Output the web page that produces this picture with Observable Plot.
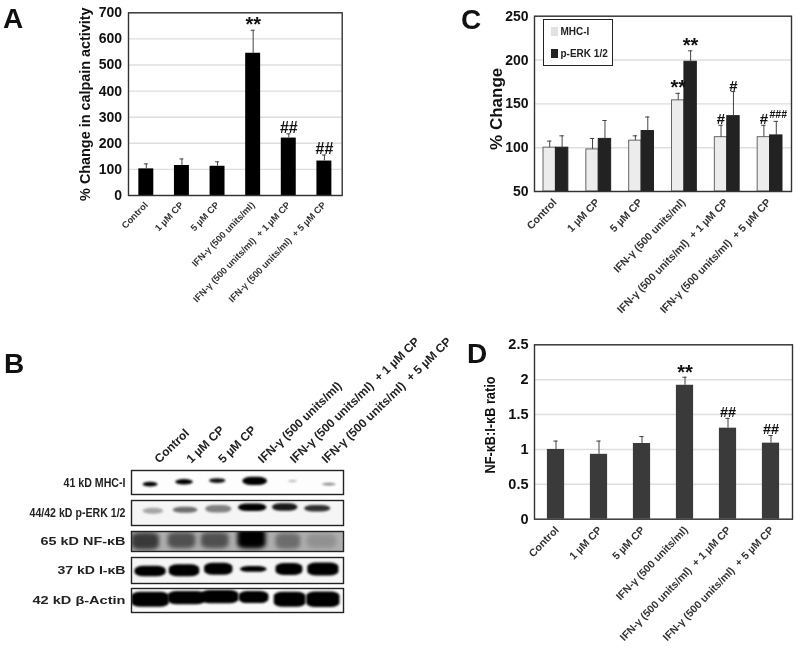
<!DOCTYPE html>
<html>
<head>
<meta charset="utf-8">
<script src="https://cdn.jsdelivr.net/npm/d3@7"></script>
<script src="https://cdn.jsdelivr.net/npm/@observablehq/plot@0.6"></script>
<style>
  html, body { margin: 0; padding: 0; background: #fff; }
  #page { position: relative; width: 800px; height: 651px; overflow: hidden; background: #fff;
          font-family: "Liberation Sans", Arial, sans-serif; filter: blur(0.4px); }
  .pane { position: absolute; }
  .pane svg { display: block; max-width: none; overflow: visible; }
  .letter { position: absolute; font-weight: bold; font-size: 28px; line-height: 28px; color: #111; }
  #legend { position: absolute; left: 543px; top: 19px; width: 68px; height: 45px; border: 1.4px solid #222;
            background: #fff; font-size: 10px; font-weight: bold; color: #222; }
  #legend div { position: absolute; left: 7px; display: flex; align-items: center; gap: 3px; white-space: nowrap; }
  #legend i { display: inline-block; width: 6.5px; height: 9px; }
</style>
</head>
<body>
<div id="page"></div>
<script>
const nb = "\u00a0";
const groups = ["Control", "1 µM CP", "5 µM CP", "IFN-γ (500 units/ml)",
  "IFN-γ (500 units/ml)" + nb + " + 1 µM CP", "IFN-γ (500 units/ml)" + nb + " + 5 µM CP"];

const calpainValue = [102, 115, 112, 545, 220, 132];
const calpainTop = [121, 140, 129, 633, 236, 155];
const calpainNote = ["", "", "", "**", "##", "##"];

const mhcValue = [100, 98, 108, 154, 112, 112];
const mhcTop = [107.5, 110.5, 113.5, 162, 125.5, 125.5];
const mhcNote = ["", "", "", "**", "#", "#"];
const erkValue = [100, 110, 119, 198, 136, 114];
const erkTop = [113.5, 131, 135, 210.5, 164, 130];
const erkNote = ["", "", "", "**", "#", "###"];
const seriesNames = ["MHC-I", "p-ERK 1/2"];

const ratioValue = [1.0, 0.93, 1.085, 1.92, 1.305, 1.09];
const ratioTop = [1.12, 1.12, 1.185, 2.035, 1.445, 1.2];
const ratioNote = ["", "", "", "**", "##", "##"];

const blotNames = ["41 kD MHC-I", "44/42 kD p-ERK 1/2", "65 kD NF-κB", "37 kD I-κB", "42 kD β-Actin"];
const headerLane = [0.62, 1.52, 2.42, 3.55, 4.45, 5.35];
const bandLane = [
  [0.54, 1.50, 2.44, 3.50, 4.57, 5.60],
  [0.62, 1.53, 2.47, 3.43, 4.35, 5.27],
  [0.40, 1.43, 2.37, 3.41, 4.44, 5.39],
  [0.54, 1.50, 2.47, 3.46, 4.47, 5.43],
  [0.54, 1.57, 2.51, 3.47, 4.49, 5.43]
];
const bandDepth = [
  [0.59, 0.49, 0.44, 0.45, 0.46, 0.59],
  [0.43, 0.39, 0.35, 0.29, 0.28, 0.33],
  [0.50, 0.46, 0.46, 0.37, 0.50, 0.50],
  [0.54, 0.51, 0.45, 0.46, 0.46, 0.46],
  [0.47, 0.40, 0.36, 0.38, 0.47, 0.47]
];
const bandWidth = [
  [0.42, 0.50, 0.46, 0.70, 0.24, 0.38],
  [0.58, 0.70, 0.74, 0.80, 0.72, 0.74],
  [0.78, 0.78, 0.78, 0.80, 0.70, 0.84],
  [0.88, 0.86, 0.80, 0.76, 0.76, 0.88],
  [1.06, 1.06, 1.06, 0.84, 0.90, 0.94]
];
const bandThick = [
  [0.20, 0.22, 0.20, 0.34, 0.08, 0.11],
  [0.24, 0.24, 0.30, 0.30, 0.30, 0.26],
  [0.85, 0.80, 0.80, 1.00, 0.80, 0.70],
  [0.40, 0.46, 0.46, 0.22, 0.46, 0.50],
  [0.62, 0.55, 0.55, 0.50, 0.62, 0.64]
];
const bandDark = [
  [1.00, 1.00, 0.95, 1.00, 0.40, 0.55],
  [0.45, 0.65, 0.58, 1.00, 0.92, 0.85],
  [0.82, 0.75, 0.75, 1.00, 0.65, 0.52],
  [1.00, 1.00, 1.00, 1.00, 1.00, 1.00],
  [1.00, 1.00, 1.00, 1.00, 1.00, 1.00]
];
const blotPaper = [0.02, 0.08, 0.42, 0.08, 0.04];

const page = document.getElementById("page");
const FONT = '"Liberation Sans", Arial, sans-serif';

function place(svg, left, top) {
  const d = document.createElement("div");
  d.className = "pane";
  d.style.left = left + "px";
  d.style.top = top + "px";
  d.appendChild(svg);
  page.appendChild(d);
}
function letter(t, left, top) {
  const d = document.createElement("div");
  d.className = "letter";
  d.textContent = t;
  d.style.left = left + "px";
  d.style.top = top + "px";
  page.appendChild(d);
}
const baseStyle = { background: "transparent", fontFamily: FONT, color: "#111", overflow: "visible" };

function singleTable(values, tops, notes) {
  return groups.map((g, i) => ({ group: g, value: values[i], top: tops[i], note: notes[i] }));
}
function noteMarks(table, x, o, hashSize, starSize) {
  const common = { y: "top", text: "note", fontWeight: "bold", fill: "#111", lineAnchor: "bottom", ...x };
  return [
    Plot.text(table.filter(d => d.note[0] === "#"), { ...common, fontSize: hashSize, dy: o.hashDy }),
    Plot.text(table.filter(d => d.note[0] === "*"), { ...common, fontSize: starSize, dy: o.starDy })
  ];
}
function fitText(chart, text, length) {
  d3.select(chart).selectAll("text").filter(function () { return this.textContent === text; })
    .attr("textLength", length).attr("lengthAdjust", "spacingAndGlyphs");
}

function singlePanel(o) {
  const t = singleTable(o.values, o.tops, o.notes);
  const chart = Plot.plot({
    width: o.width, height: o.height,
    marginLeft: o.ml, marginRight: o.mr, marginTop: o.mt, marginBottom: o.mb,
    style: baseStyle,
    x: { domain: groups, paddingInner: o.padding, paddingOuter: o.padding / 2, round: false, label: null, axis: null },
    y: { domain: o.domain, label: null, axis: null },
    marks: [
      Plot.gridY(o.ticks, { stroke: "#dedede", strokeOpacity: 1, strokeWidth: 1.4 }),
      Plot.barY(t, { x: "group", y: "value", fill: o.fill }),
      Plot.ruleX(t, { x: "group", y1: "value", y2: "top", stroke: "#444", strokeWidth: 1 }),
      Plot.tickY(t, { x: "group", y: "top", stroke: "#444", strokeWidth: 1, insetLeft: o.capInset, insetRight: o.capInset }),
      ...noteMarks(t, { x: "group" }, o, o.hashSize, o.starSize),
      Plot.axisY(o.ticks, { tickSize: 0, tickPadding: o.tickPad, fontSize: o.tickFont, fontWeight: "bold", label: null, tickFormat: d => String(d) }),
      Plot.axisX(groups, { anchor: "bottom", tickSize: 0, tickRotate: -46, fontSize: o.catFont, fontWeight: "bold", label: null,
        tickPadding: o.catPad, dx: o.catDx, fill: "#333" }),
      Plot.text([o.title], { text: d => d, frameAnchor: "left", textAnchor: "middle", rotate: -90, dx: o.titleDx, dy: o.titleDy || 0, fontSize: o.titleFont, fontWeight: "bold", fill: "#111" }),
      Plot.frame({ stroke: "#333", strokeWidth: 1.4 })
    ]
  });
  if (o.titleLength) fitText(chart, o.title, o.titleLength);
  return chart;
}

// Panel A
place(singlePanel({
  values: calpainValue, tops: calpainTop, notes: calpainNote,
  width: 360, height: 320, ml: 128, mr: 18.3, mt: 12.3, mb: 125,
  domain: [0, 700], ticks: [0, 100, 200, 300, 400, 500, 600, 700],
  padding: 0.58, fill: "#000", capInset: 5.5, tickPad: 6.5, tickFont: 14,
  catFont: 9.3, catPad: 8, catDx: 0, title: "% Change in calpain activity",
  titleFont: 14.4, titleDx: -43, hashSize: 16, starSize: 20, hashDy: -1, starDy: 1
}), 0, 0);

// Panel C
const pairTable = groups.flatMap((g, i) => [
  { group: g, series: seriesNames[0], value: mhcValue[i], top: mhcTop[i], note: mhcNote[i] },
  { group: g, series: seriesNames[1], value: erkValue[i], top: erkTop[i], note: erkNote[i] }
]);
const cTicks = [50, 100, 150, 200, 250];
const chartC = Plot.plot({
  width: 400, height: 330,
  marginLeft: 134, marginRight: 9, marginTop: 15.7, marginBottom: 139,
  style: baseStyle,
  fx: { domain: groups, padding: 0, round: false, label: null, axis: null },
  x: { domain: seriesNames, paddingInner: 0, paddingOuter: 0.726, round: false, label: null, axis: null },
  y: { domain: [50, 250], label: null, axis: null },
  color: { domain: seriesNames, range: ["#ececec", "#222"] },
  marks: [
    Plot.gridY(cTicks, { stroke: "#dedede", strokeOpacity: 1, strokeWidth: 1.4 }),
    Plot.barY(pairTable, { fx: "group", x: "series", y1: 50, y2: "value", fill: "series",
      stroke: d => d.series === seriesNames[0] ? "#666" : "#222", strokeWidth: 1 }),
    Plot.ruleX(pairTable, { fx: "group", x: "series", y1: "value", y2: "top", stroke: "#444", strokeWidth: 1 }),
    Plot.tickY(pairTable, { fx: "group", x: "series", y: "top", stroke: "#444", strokeWidth: 1, insetLeft: 4, insetRight: 4 }),
    ...noteMarks(pairTable.filter(d => d.note !== "###"), { fx: "group", x: "series" }, { hashDy: -1, starDy: 1 }, 15, 20),
    Plot.text(pairTable.filter(d => d.note === "###"), { fx: "group", x: "series", y: "top", text: "note", fontSize: 10.5, fontWeight: "bold", fill: "#111", lineAnchor: "bottom", dy: -3, dx: 2 }),
    Plot.axisY(cTicks, { tickSize: 0, tickPadding: 6, fontSize: 14, fontWeight: "bold", label: null }),
    Plot.axisFx({ anchor: "bottom", tickSize: 0, tickRotate: -46, fontSize: 10.6, fontWeight: "bold", label: null, tickPadding: 9, dx: -1, fill: "#333" }),
    Plot.text(["% Change"], { text: d => d, frameAnchor: "left", textAnchor: "middle", rotate: -90, dx: -38, dy: 5, fontSize: 17, fontWeight: "bold", fill: "#111", facet: "super" }),
    Plot.frame({ stroke: "#333", strokeWidth: 1.4, facet: "super" })
  ]
});
place(chartC, 400, 0);

// Panel D
place(singlePanel({
  values: ratioValue, tops: ratioTop, notes: ratioNote,
  width: 360, height: 321, ml: 94, mr: 8, mt: 14.3, mb: 132.3,
  domain: [0, 2.5], ticks: [0, 0.5, 1, 1.5, 2, 2.5],
  padding: 0.6, fill: "#3a3a3a", capInset: 6.5, tickPad: 6, tickFont: 14.5,
  catFont: 10.6, catPad: 9, catDx: 1, title: "NF-κB:I-κB ratio", titleLength: 97,
  titleFont: 14, titleDx: -44, titleDy: -7, hashSize: 14.5, starSize: 20, hashDy: -1, starDy: 2
}), 440, 330);

// Panel B
const blotTops = [470, 500, 531, 557, 588];
const blotHeights = [24, 25, 20, 26, 24];
const labelLengths = [62, 96, 85, 68, 93];
const labelFonts = [12.5, 12.5, 11, 11, 11];
const grey = v => d3.interpolateGreys(v);
blotNames.forEach((name, r) => {
  const bands = d3.range(6).map(i => ({
    x1: bandLane[r][i] - bandWidth[r][i] / 2, x2: bandLane[r][i] + bandWidth[r][i] / 2,
    y1: bandDepth[r][i] - bandThick[r][i] / 2, y2: bandDepth[r][i] + bandThick[r][i] / 2,
    dark: bandDark[r][i]
  }));
  const head = r === 0 ? 140 : 0;
  const headers = groups.map((g, i) => ({ g, x: headerLane[i] }));
  const chart = Plot.plot({
    width: 460, height: blotHeights[r] + head,
    marginLeft: 131, marginRight: 117, marginTop: head, marginBottom: 0,
    style: baseStyle,
    x: { domain: [0, 6], axis: null },
    y: { domain: [1, 0], axis: null },
    marks: [
      Plot.frame({ fill: grey(blotPaper[r]), stroke: "none" }),
      Plot.rect(bands, { x1: "x1", x2: "x2", y1: "y1", y2: "y2", fill: d => grey(d.dark), rx: 9, ry: 4, clip: true }),
      Plot.frame({ stroke: "#222", strokeWidth: 1.4 }),
      Plot.text([name], { text: d => d, frameAnchor: "left", textAnchor: "end", dx: -6, fontSize: labelFonts[r], fontWeight: "bold", fill: "#222" }),
      r === 0 ? Plot.text(headers, { x: "x", text: "g", frameAnchor: "top", textAnchor: "start", rotate: -44, dy: -13, fontSize: 12, fontWeight: "bold", fill: "#222" }) : null
    ]
  });
  d3.select(chart).selectAll('g[aria-label="rect"] rect').style("filter", r === 2 ? "blur(2.2px)" : "blur(1.1px)");
  fitText(chart, name, labelLengths[r]);
  place(chart, 0, blotTops[r] - head);
});

letter("A", 3, 5);
letter("B", 4, 350);
letter("C", 461, 6);
letter("D", 467, 340);

const legend = document.createElement("div");
legend.id = "legend";
legend.innerHTML = '<div style="top:6px"><i style="background:#e2e2e2"></i>' + seriesNames[0] + '</div>' +
                   '<div style="top:28px"><i style="background:#222"></i>' + seriesNames[1] + '</div>';
page.appendChild(legend);
</script>
</body>
</html>
